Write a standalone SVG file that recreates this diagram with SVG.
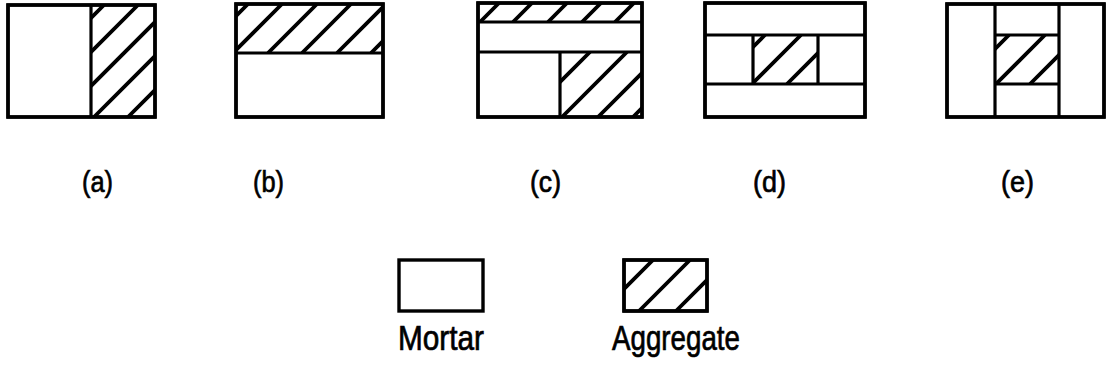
<svg xmlns="http://www.w3.org/2000/svg" width="1108" height="374" viewBox="0 0 1108 374">
<style>
.box{fill:#fff;stroke:#000;stroke-width:3.4}
.div{stroke:#000;stroke-width:3.2;fill:none}
.hatch{stroke:#000;stroke-width:3.8;fill:none}
.frame{fill:none;stroke:#000;stroke-width:3.4}
.lbl{font-family:"Liberation Sans",Arial,sans-serif;font-size:30px;fill:#000;stroke:#000;stroke-width:0.7}
.leg{font-family:"Liberation Sans",Arial,sans-serif;font-size:35px;fill:#000;stroke:#000;stroke-width:0.7}
</style>
<defs>
<clipPath id="ca"><rect x="91" y="5" width="64" height="112"/></clipPath>
<clipPath id="cb"><rect x="236" y="4" width="147" height="49"/></clipPath>
<clipPath id="cc1"><rect x="478" y="3" width="164" height="19"/></clipPath>
<clipPath id="cc2"><rect x="560" y="52" width="82" height="65"/></clipPath>
<clipPath id="cd"><rect x="753" y="35" width="65" height="49"/></clipPath>
<clipPath id="ce"><rect x="995" y="35" width="64" height="49"/></clipPath>
<clipPath id="cl"><rect x="623" y="259" width="84" height="51"/></clipPath>
</defs>
<g id="panel-a">
<rect class="box" x="8" y="5" width="147" height="112"/>
<path class="hatch" clip-path="url(#ca)" d="M-8 117L104 5M26 117L138 5M60 117L172 5M94 117L206 5M128 117L240 5"/>
<line class="div" x1="91" y1="5" x2="91" y2="117"/>
<rect class="frame" x="8" y="5" width="147" height="112"/>
<text class="lbl" x="82" y="192" textLength="31" lengthAdjust="spacingAndGlyphs">(a)</text>
</g>
<g id="panel-b">
<rect class="box" x="236" y="4" width="147" height="113"/>
<path class="hatch" clip-path="url(#cb)" d="M199 53L248 4M233 53L282 4M268 53L317 4M302 53L351 4M337 53L386 4M371 53L420 4"/>
<line class="div" x1="236" y1="53" x2="383" y2="53"/>
<rect class="frame" x="236" y="4" width="147" height="113"/>
<text class="lbl" x="253" y="192" textLength="31" lengthAdjust="spacingAndGlyphs">(b)</text>
</g>
<g id="panel-c">
<rect class="box" x="478" y="3" width="164" height="114"/>
<path class="hatch" clip-path="url(#cc1)" d="M480 22L499 3M513 22L532 3M548 22L567 3M582 22L601 3M615 22L634 3M648 22L667 3"/>
<path class="hatch" clip-path="url(#cc2)" d="M525 117L590 52M562 117L627 52M598 117L663 52M633 117L698 52"/>
<line class="div" x1="478" y1="22" x2="642" y2="22"/>
<line class="div" x1="478" y1="52" x2="642" y2="52"/>
<line class="div" x1="560" y1="52" x2="560" y2="117"/>
<rect class="frame" x="478" y="3" width="164" height="114"/>
<text class="lbl" x="530" y="192" textLength="31" lengthAdjust="spacingAndGlyphs">(c)</text>
</g>
<g id="panel-d">
<rect class="box" x="705" y="3" width="160" height="114"/>
<path class="hatch" clip-path="url(#cd)" d="M716 84L765 35M752 84L801 35M787 84L836 35"/>
<line class="div" x1="705" y1="35" x2="865" y2="35"/>
<line class="div" x1="705" y1="84" x2="865" y2="84"/>
<line class="div" x1="753" y1="35" x2="753" y2="84"/>
<line class="div" x1="818" y1="35" x2="818" y2="84"/>
<rect class="frame" x="705" y="3" width="160" height="114"/>
<text class="lbl" x="753" y="192" textLength="33" lengthAdjust="spacingAndGlyphs">(d)</text>
</g>
<g id="panel-e">
<rect class="box" x="947" y="4" width="157" height="113"/>
<path class="hatch" clip-path="url(#ce)" d="M960 84L1009 35M996 84L1045 35M1030 84L1079 35"/>
<line class="div" x1="995" y1="4" x2="995" y2="117"/>
<line class="div" x1="1059" y1="4" x2="1059" y2="117"/>
<line class="div" x1="995" y1="35" x2="1059" y2="35"/>
<line class="div" x1="995" y1="84" x2="1059" y2="84"/>
<rect class="frame" x="947" y="4" width="157" height="113"/>
<text class="lbl" x="1001" y="192" textLength="33" lengthAdjust="spacingAndGlyphs">(e)</text>
</g>
<g id="legend-mortar">
<rect class="box" x="399" y="260" width="84" height="51"/>
<text class="leg" x="398" y="350" textLength="86" lengthAdjust="spacingAndGlyphs">Mortar</text>
</g>
<g id="legend-aggregate">
<rect class="box" x="624" y="260" width="83" height="51"/>
<path class="hatch" clip-path="url(#cl)" d="M602 311L654 259M639 311L691 259M676 311L728 259"/>
<rect class="frame" x="624" y="260" width="83" height="51"/>
<text class="leg" x="612" y="350" textLength="128" lengthAdjust="spacingAndGlyphs">Aggregate</text>
</g>
<g id="connectors"/>
</svg>
